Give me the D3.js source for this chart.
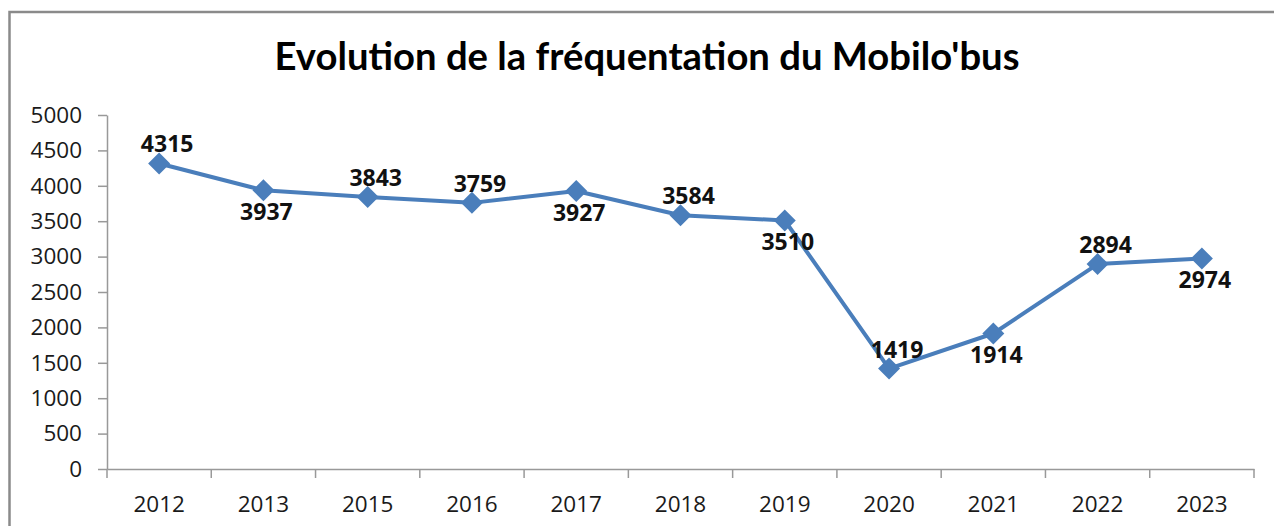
<!DOCTYPE html>
<html><head><meta charset="utf-8">
<script src="https://cdn.jsdelivr.net/npm/d3@7"></script>
<style>body{margin:0;background:#fff}svg{display:block}</style>
</head><body>
<svg id="c" width="1274" height="526"></svg>
<script>
const title = "Evolution de la fréquentation du Mobilo'bus";
const years = ["2012","2013","2015","2016","2017","2018","2019","2020","2021","2022","2023"];
const values = [4315,3937,3843,3759,3927,3584,3510,1419,1914,2894,2974];
const labelPos = ["above","below","above","above","below","above","below","above","below","above","below"];
const yTicks = [0,500,1000,1500,2000,2500,3000,3500,4000,4500,5000];

const svg = d3.select("#c");
const W = 1274, H = 526;
const m = {left:107, right:20, top:115, bottom:57};

svg.append("path").attr("d", `M9.5,${H} L9.5,12 L${W},12`).attr("fill","none").attr("stroke","#8a8a8a").attr("stroke-width",2.5);

const x = d3.scaleBand().domain(years).range([m.left, W - m.right]);
const y = d3.scaleLinear().domain([0,5000]).range([H - m.bottom, m.top]);

svg.append("text").attr("x", 647).attr("y", 70).attr("text-anchor","middle")
  .attr("font-family","Lato, 'Open Sans', sans-serif").attr("font-weight","bold").attr("font-size",37.5)
  .attr("textLength",745).attr("lengthAdjust","spacingAndGlyphs")
  .attr("fill","#000").text(title);

const yAxis = svg.append("g").attr("transform",`translate(${m.left},0)`)
  .call(d3.axisLeft(y).tickValues(yTicks).tickFormat(d3.format("d")).tickSize(9).tickPadding(16).tickSizeOuter(0));
const xAxis = svg.append("g").attr("transform",`translate(0,${H - m.bottom})`)
  .call(d3.axisBottom(x).tickSize(0).tickPadding(27));
const bounds = years.map(d => x(d)).concat([x.range()[1]]);
xAxis.selectAll(".bt").data(bounds).enter().append("line").attr("class","bt")
  .attr("x1",d=>d).attr("x2",d=>d).attr("y1",0).attr("y2",9).attr("stroke","#999").attr("stroke-width",1.5);
[yAxis,xAxis].forEach(g=>{
  g.selectAll(".domain").attr("stroke","#999").attr("stroke-width",1.5);
  g.selectAll(".tick line").attr("stroke","#999").attr("stroke-width",1.5);
  g.selectAll("text").style("font-family","'Open Sans', sans-serif").style("font-size","22.5px").attr("fill","#1a1a1a");
});

const cx = d => x(d) + x.bandwidth()/2;
const data = years.map((d,i)=>({year:d, v:values[i], pos:labelPos[i]}));
svg.append("path").datum(data)
  .attr("d", d3.line().x(d=>cx(d.year)).y(d=>y(d.v)))
  .attr("fill","none").attr("stroke","#4a7ebb").attr("stroke-width",4).attr("stroke-linejoin","round");
svg.selectAll(".mk").data(data).enter().append("path").attr("class","mk")
  .attr("transform", d=>`translate(${cx(d.year)},${y(d.v)})`)
  .attr("d","M0,-11L11,0L0,11L-11,0Z").attr("fill","#4a7ebb");
svg.selectAll(".lb").data(data).enter().append("text").attr("class","lb")
  .attr("x", d=>cx(d.year)+ (d.pos==="above"?8:3))
  .attr("y", d=>y(d.v) + (d.pos==="above"?-11:30))
  .attr("text-anchor","middle").style("font-family","'Open Sans', sans-serif").attr("font-weight","bold")
  .style("font-size","23px").attr("fill","#111").text(d=>d.v);
</script>
</body></html>
